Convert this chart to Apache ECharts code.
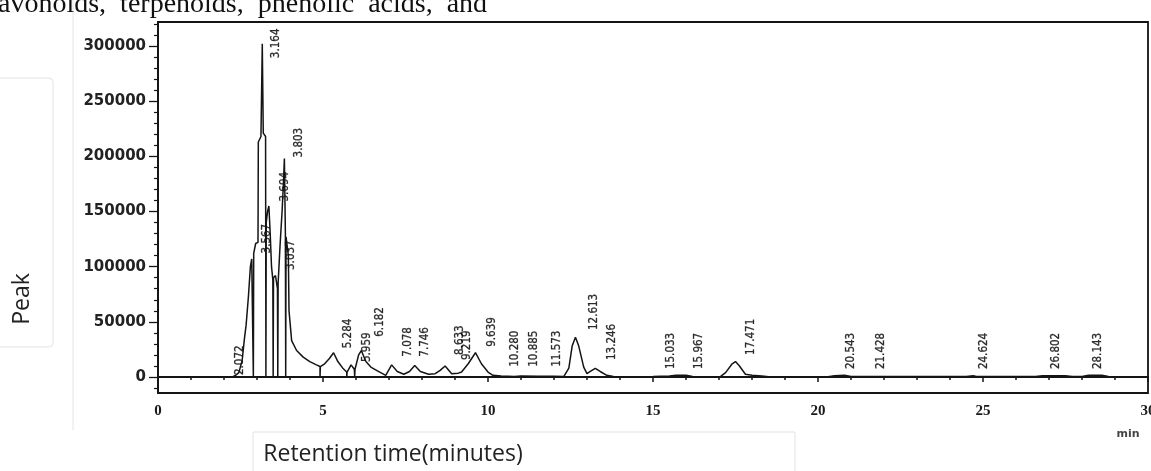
<!DOCTYPE html>
<html>
<head>
<meta charset="utf-8">
<script src="https://cdn.jsdelivr.net/npm/echarts@6/dist/echarts.min.js"></script>
<style>
html,body{margin:0;padding:0;background:#fff;}
#chart{width:1151px;height:471px;}
</style>
</head>
<body>
<div id="chart"></div>
<script>
// ---- data ----
// chromatogram trace: [retention time (min), signal]
const trace = [
  [0,0],[2.25,0],[2.35,1500],[2.45,4000],[2.55,15000],[2.62,35000],[2.67,47000],[2.74,73000],
  [2.80,100000],[2.84,107000],[2.88,107000],[2.89,0],[2.90,112000],[2.96,121000],[3.03,122000],
  [3.04,213000],[3.12,218000],[3.16,302000],[3.19,221000],[3.26,218000],[3.27,0],[3.28,140000],
  [3.32,150000],[3.36,155000],[3.40,130000],[3.44,100000],[3.48,88000],[3.49,0],[3.50,90000],
  [3.56,92000],[3.62,80000],[3.63,0],[3.64,85000],[3.70,120000],[3.76,150000],[3.80,175000],
  [3.83,198000],[3.86,130000],[3.87,0],[3.88,127000],[3.93,127000],[3.95,110000],[3.97,60000],
  [4.00,50000],[4.05,33000],[4.20,24000],[4.40,18000],[4.60,14000],[4.80,11000],[4.91,9500],
  [4.91,0],[4.92,9500],[5.05,12000],[5.20,17000],[5.32,22000],[5.45,14000],[5.60,8000],
  [5.72,4500],[5.72,0],[5.73,4500],[5.85,11000],[5.95,7000],[5.96,0],[5.97,7000],[6.08,20000],
  [6.16,24000],[6.30,14000],[6.45,9000],[6.65,5500],[6.90,1500],[7.08,11000],[7.25,5000],
  [7.45,2500],[7.62,5000],[7.78,10500],[7.95,5000],[8.20,2500],[8.40,3000],[8.55,6000],
  [8.70,10000],[8.90,3000],[9.10,3500],[9.20,4500],[9.40,12000],[9.62,22000],[9.80,12000],
  [10.00,4500],[10.15,1500],[10.40,800],[10.80,500],[11.00,800],[11.50,600],[12.00,700],
  [12.30,500],[12.45,8000],[12.55,28000],[12.65,36000],[12.75,28000],[12.90,9000],[13.00,3000],
  [13.10,5000],[13.25,7800],[13.40,5000],[13.60,1500],[13.80,500],[14.50,300],[15.00,400],
  [15.50,800],[15.70,1500],[16.00,1500],[16.20,500],[16.80,300],[17.05,500],[17.20,4000],
  [17.40,12000],[17.50,14000],[17.62,10000],[17.80,2500],[18.00,1500],[18.30,800],[18.50,300],
  [20.30,300],[20.50,1200],[20.80,1500],[21.00,400],[24.50,400],[24.70,1200],[24.80,400],
  [26.60,400],[26.80,1200],[27.50,1200],[27.70,400],[28.00,500],[28.20,1500],[28.60,1500],
  [28.80,400],[30,300]
];

// peak labels: text, anchor time (min) and anchor signal (bottom of the label)
const peakLabels = ['2.072','3.164','3.567','3.694','3.803','3.037','5.284','5.959','6.182','7.078',
  '7.746','8.633','9.219','9.639','10.280','10.885','11.573','12.613','13.246','15.033','15.967',
  '17.471','20.543','21.428','24.624','26.802','28.143'];
const labelTimes = [2.49,3.58,3.30,3.85,4.26,4.04,5.76,6.33,6.74,7.59,8.10,9.16,9.37,10.12,10.83,
  11.39,12.10,13.21,13.77,15.56,16.39,17.96,21.00,21.91,25.04,27.21,28.48];
const labelSignals = [1800,289000,112000,159000,199000,97000,26000,13600,36500,18400,18400,20000,
  15400,27400,9300,9300,9300,42600,15400,7200,7200,20000,7200,7200,7200,7200,7200];

const yMajorTicks = [0,50000,100000,150000,200000,250000,300000];
const yMinorTicks = [-10000,10000,20000,30000,40000,60000,70000,80000,90000,110000,120000,130000,
  140000,160000,170000,180000,190000,210000,220000,230000,240000,260000,270000,280000,290000,310000,320000];

const yTitle = 'Peak';
const xTitle = 'Retention time(minutes)';
const xUnit = 'min';
const topText = 'avonoids,  terpenoids,  phenolic  acids,  and';

// ---- chart ----
const chart = echarts.init(document.getElementById('chart'), null, {renderer: 'canvas'});
const ink = '#141414';

const labelData = peakLabels.map((t, i) => ({value: [labelTimes[i], labelSignals[i]], name: t}));

chart.setOption({
  animation: false,
  backgroundColor: '#fff',
  grid: {left: 158, right: 3, top: 22, bottom: 78, containLabel: false, outerBoundsMode: 'none',
    show: true, borderColor: ink, borderWidth: 1.8, backgroundColor: 'transparent'},
  xAxis: {
    type: 'value', min: 0, max: 30, interval: 5,
    axisLine: {show: true, lineStyle: {color: ink, width: 1.8}},
    axisTick: {show: true, length: 5, lineStyle: {color: ink, width: 1.5}},
    minorTick: {show: true, splitNumber: 5, length: 3, lineStyle: {color: ink, width: 1.5}},
    splitLine: {show: false},
    axisLabel: {color: '#1a1a1a', fontFamily: '"Liberation Serif", serif', fontWeight: 'bold', fontSize: 15, margin: 11}
  },
  yAxis: [{
    type: 'value', min: -14500, max: 321750,
    axisLine: {show: true, lineStyle: {color: ink, width: 1.8}},
    axisTick: {show: true, length: 9, customValues: yMajorTicks, lineStyle: {color: ink, width: 1.3}},
    axisLabel: {customValues: yMajorTicks, formatter: v => String(v), color: '#222',
      fontFamily: '"DejaVu Sans", sans-serif', fontWeight: 'bold', fontSize: 15, margin: 12},
    splitLine: {show: false}
  }, {
    type: 'value', min: -14500, max: 321750, position: 'left',
    axisLine: {show: false},
    axisTick: {show: true, length: 4, customValues: yMinorTicks, lineStyle: {color: ink, width: 1.2}},
    axisLabel: {show: false},
    splitLine: {show: false}
  }],
  series: [{
    type: 'line', data: trace, yAxisIndex: 0, symbol: 'none', smooth: false,
    lineStyle: {color: ink, width: 1.5},
    markLine: {silent: true, symbol: ['none', 'none'], label: {show: false},
      lineStyle: {color: ink, width: 1.8, type: 'solid'}, data: [{yAxis: 0}]}
  }, {
    type: 'scatter', data: labelData, yAxisIndex: 0, symbolSize: 0,
    label: {show: true, position: [0, 0], rotate: 90, align: 'left', verticalAlign: 'middle',
      formatter: p => p.name, color: '#000', fontSize: 11.5,
      textBorderColor: '#000', textBorderWidth: 0.3,
      fontFamily: '"DejaVu Sans Condensed", "DejaVu Sans", sans-serif'}
  }],
  graphic: [
    {type: 'line', shape: {x1: 73, y1: 0, x2: 73, y2: 430}, style: {stroke: '#e4e4e4', lineWidth: 1}, silent: true},
    {type: 'rect', shape: {x: -10, y: 78, width: 63, height: 269, r: 4}, style: {fill: '#fff', stroke: '#e2e2e2', lineWidth: 1}, silent: true},
    {type: 'text', x: 22, y: 299, rotation: Math.PI / 2,
      style: {text: yTitle, font: '23px "Open Sans", sans-serif', fill: '#222', textAlign: 'center', textVerticalAlign: 'middle'}},
    {type: 'rect', shape: {x: 253, y: 432, width: 542, height: 60}, style: {fill: 'none', stroke: '#e2e2e2', lineWidth: 1}, silent: true},
    {type: 'text', x: 393, y: 454,
      style: {text: xTitle, font: '23px "Open Sans", sans-serif', fill: '#222', textAlign: 'center', textVerticalAlign: 'middle'}},
    {type: 'text', x: 1128, y: 434,
      style: {text: xUnit, font: 'bold 11px "DejaVu Sans", sans-serif', fill: '#444', textAlign: 'center', textVerticalAlign: 'middle'}},
    {type: 'text', x: -2, y: 5,
      style: {text: topText, font: '28px "Liberation Serif", serif', fill: '#111', textAlign: 'left', textVerticalAlign: 'middle'}}
  ]
});
</script>
</body>
</html>
